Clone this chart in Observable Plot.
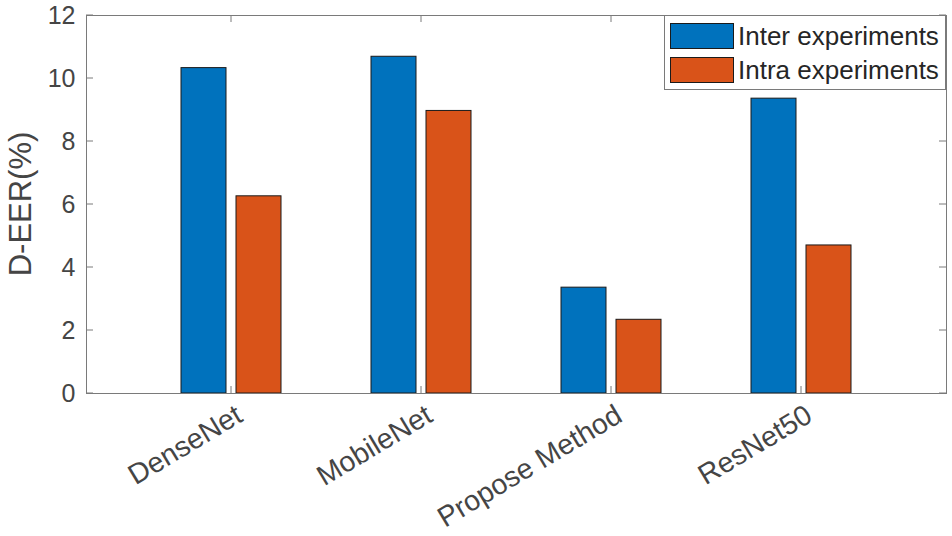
<!DOCTYPE html>
<html><head><meta charset="utf-8">
<script src="https://cdn.jsdelivr.net/npm/d3@7"></script>
<script src="https://cdn.jsdelivr.net/npm/@observablehq/plot@0.6"></script>
<style>
body{margin:0;background:#fff;}
</style>
</head><body><div id="chart"></div>
<script>
const categories = ["DenseNet","MobileNet","Propose Method","ResNet50"];
const series = ["Inter experiments","Intra experiments"];
const interValues = [10.33, 10.69, 3.36, 9.36];
const intraValues = [6.26, 8.97, 2.34, 4.70];
const colors = ["#0072BD","#D95319"];
const yTicks = [0,2,4,6,8,10,12];
const yLabel = "D-EER(%)";

const data = categories.flatMap((c,i)=>[
  {category:c, series:series[0], value:interValues[i]},
  {category:c, series:series[1], value:intraValues[i]}
]);

const W=952, H=536, ml=86, mr=6, mt=15, mb=143;
const font = "'Liberation Sans', Arial, Helvetica, sans-serif";

const plot = Plot.plot({
  width:W, height:H, marginLeft:ml, marginRight:mr, marginTop:mt, marginBottom:mb,
  style:{fontFamily:font, background:"#fff", color:"#454545", overflow:"visible"},
  x:{domain:categories, paddingInner:0, paddingOuter:0.263, axis:null},
  y:{domain:[0,12], axis:null},
  color:{domain:series, range:colors},
  marks:[
    Plot.barY(data.filter(d=>d.series===series[0]), {x:"category", y:"value", fill:"series", stroke:"#1a1a1a", strokeWidth:1, insetLeft:45, insetRight:100}),
    Plot.barY(data.filter(d=>d.series===series[1]), {x:"category", y:"value", fill:"series", stroke:"#1a1a1a", strokeWidth:1, insetLeft:100, insetRight:45}),
    Plot.frame({stroke:"#7a7a7a", strokeWidth:1}),
    Plot.axisY({ticks:yTicks, tickSize:0, tickPadding:11, fontSize:25, tickFormat:d=>String(d), label:null}),
    Plot.axisX({tickSize:0, tickPadding:19, tickRotate:-31, fontSize:28.5, label:null, dx:8})
  ]
});
document.getElementById("chart").append(plot);

const svg = d3.select(plot);
const ys = plot.scale("y"), xs = plot.scale("x");
const tickLen = 7;
const g = svg.append("g").attr("stroke","#7a7a7a").attr("stroke-width",1);
for (const t of yTicks) {
  const y = ys.apply(t);
  g.append("line").attr("x1",ml).attr("x2",ml+tickLen).attr("y1",y).attr("y2",y);
  g.append("line").attr("x1",W-mr).attr("x2",W-mr-tickLen).attr("y1",y).attr("y2",y);
}
for (const c of categories) {
  const x = xs.apply(c) + xs.bandwidth/2;
  g.append("line").attr("x1",x).attr("x2",x).attr("y1",H-mb).attr("y2",H-mb-tickLen);
  g.append("line").attr("x1",x).attr("x2",x).attr("y1",mt).attr("y2",mt+tickLen);
}

// y label
svg.append("text")
  .attr("transform",`translate(20,${(mt + H - mb)/2}) rotate(-90)`)
  .attr("text-anchor","middle").attr("dominant-baseline","central")
  .attr("font-size",31).attr("fill","#454545").attr("font-family",font)
  .text(yLabel);

// legend
const lg = svg.append("g").attr("font-family",font).attr("text-anchor","start");
lg.append("rect").attr("x",664.5).attr("y",15.5).attr("width",281).attr("height",74)
  .attr("fill","#fff").attr("stroke","#7a7a7a");
series.forEach((s,i)=>{
  const y0 = 23 + i*34;
  lg.append("rect").attr("x",670.5).attr("y",y0+0.5).attr("width",63).attr("height",25)
    .attr("fill",colors[i]).attr("stroke","#1a1a1a");
  lg.append("text").attr("x",738).attr("y",y0+22).attr("font-size",26)
    .attr("text-anchor","start").attr("fill","#262626").text(s);
});
</script>
</body></html>
